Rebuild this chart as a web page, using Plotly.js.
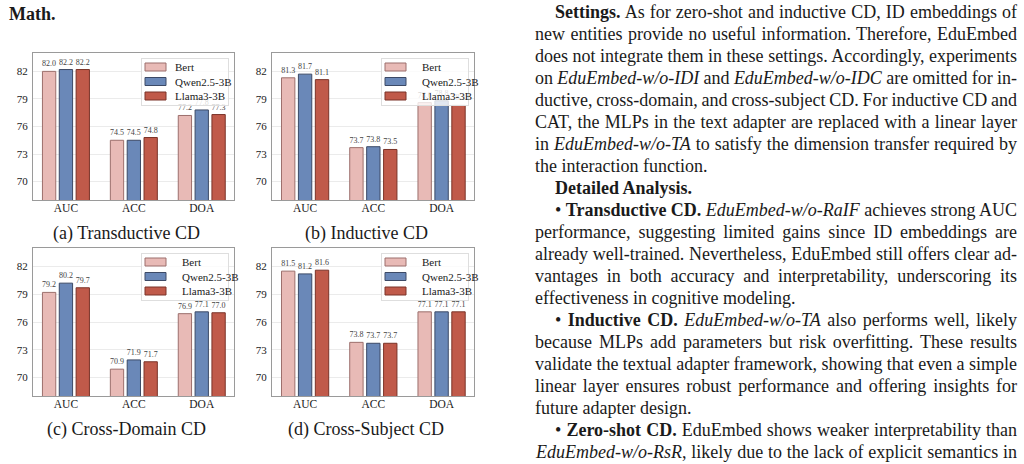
<!DOCTYPE html>
<html><head><meta charset="utf-8">
<script src="https://cdn.plot.ly/plotly-3.0.1.min.js"></script>
<style>html,body{margin:0;padding:0;background:#fff;overflow:hidden}#chart{width:1024px;height:464px}</style>
</head><body><div id="chart"></div>
<script>
// ---------- data ----------
const categories = ['AUC', 'ACC', 'DOA'];
const models = ['Bert', 'Qwen2.5-3B', 'Llama3-3B'];
const yTicks = [70, 73, 76, 79, 82];

const transBert  = [82.0, 74.5, 77.2];
const transQwen  = [82.2, 74.5, 77.8];
const transLlama = [82.2, 74.8, 77.3];

const inducBert  = [81.3, 73.7, 78.6];
const inducQwen  = [81.7, 73.8, 78.8];
const inducLlama = [81.1, 73.5, 78.3];

const domainBert  = [79.2, 70.9, 76.9];
const domainQwen  = [80.2, 71.9, 77.1];
const domainLlama = [79.7, 71.7, 77.0];

const subjectBert  = [81.5, 73.8, 77.1];
const subjectQwen  = [81.2, 73.7, 77.1];
const subjectLlama = [81.6, 73.7, 77.1];

const captions = ['(a) Transductive CD', '(b) Inductive CD', '(c) Cross-Domain CD', '(d) Cross-Subject CD'];

const bodyText = [
  '<b>Settings.</b> As for zero-shot and inductive CD, ID embeddings of',
  'new entities provide no useful information. Therefore, EduEmbed',
  'does not integrate them in these settings. Accordingly, experiments',
  'on <i>EduEmbed-w/o-IDI</i> and <i>EduEmbed-w/o-IDC</i> are omitted for in-',
  'ductive, cross-domain, and cross-subject CD. For inductive CD and',
  'CAT, the MLPs in the text adapter are replaced with a linear layer',
  'in <i>EduEmbed-w/o-TA</i> to satisfy the dimension transfer required by',
  'the interaction function.',
  '<b>Detailed Analysis.</b>',
  '• <b>Transductive CD.</b> <i>EduEmbed-w/o-RaIF</i> achieves strong AUC',
  'performance, suggesting limited gains since ID embeddings are',
  'already well-trained. Nevertheless, EduEmbed still offers clear ad-',
  'vantages in both accuracy and interpretability, underscoring its',
  'effectiveness in cognitive modeling.',
  '• <b>Inductive CD.</b> <i>EduEmbed-w/o-TA</i> also performs well, likely',
  'because MLPs add parameters but risk overfitting. These results',
  'validate the textual adapter framework, showing that even a simple',
  'linear layer ensures robust performance and offering insights for',
  'future adapter design.',
  '• <b>Zero-shot CD.</b> EduEmbed shows weaker interpretability than',
  '<i>EduEmbed-w/o-RsR</i>, likely due to the lack of explicit semantics in'
];
const bodyIndent  = [1,0,0,0,0,0,0,0,1,1,0,0,0,0,1,0,0,0,0,1,0];
const bodyJustify = [1,1,1,1,1,1,1,0,0,1,1,1,1,0,1,1,1,1,0,1,1];

// ---------- styling ----------
const W = 1024, H = 464;
const SERIF = "'Liberation Serif', 'Times New Roman', serif";
const fills = ['#e8bab6', '#6a88b8', '#c05a4a'];
const edges = ['#9c6f6c', '#3c4a66', '#7a3328'];

const panels = [
  {vals: [transBert, transQwen, transLlama]},
  {vals: [inducBert, inducQwen, inducLlama]},
  {vals: [domainBert, domainQwen, domainLlama]},
  {vals: [subjectBert, subjectQwen, subjectLlama]}
];
const boxes = [
  {x0: 33, x1: 234, y0: 53, y1: 200, cap: 126, capY: 233},
  {x0: 272, x1: 474, y0: 53, y1: 200, cap: 366, capY: 233},
  {x0: 33, x1: 234, y0: 248, y1: 396, cap: 126, capY: 429},
  {x0: 272, x1: 474, y0: 248, y1: 396, cap: 366, capY: 429}
];

const data = [];
const layout = {
  width: W, height: H,
  margin: {l: 0, r: 0, t: 0, b: 0},
  paper_bgcolor: '#fff', plot_bgcolor: '#fff',
  barmode: 'group', bargap: 0.256, bargroupgap: 0.21,
  font: {family: SERIF, color: '#1a1a1a'},
  showlegend: true,
  annotations: []
};

panels.forEach((p, i) => {
  const n = i === 0 ? '' : String(i + 1);
  const b = boxes[i];
  p.vals.forEach((v, k) => {
    data.push({
      type: 'bar', x: categories, y: v, name: models[k],
      xaxis: 'x' + n, yaxis: 'y' + n,
      legend: 'legend' + n,
      marker: {color: fills[k], line: {color: edges[k], width: 1}},
      text: v.map(d => d.toFixed(1)), textposition: 'outside',
      textfont: {family: SERIF, size: 8, color: '#444'},
      constraintext: 'none', cliponaxis: true
    });
  });
  layout['xaxis' + n] = {
    domain: [b.x0 / W, b.x1 / W], anchor: 'y' + n, type: 'category',
    range: [-0.485, 2.475], showline: true, mirror: true, linecolor: '#9a9a9a', linewidth: 1,
    ticks: '', showgrid: false, zeroline: false, fixedrange: true,
    ticklabelstandoff: -3,
    tickfont: {family: SERIF, size: 11.5, color: '#1a1a1a'}
  };
  layout['yaxis' + n] = {
    domain: [1 - b.y1 / H, 1 - b.y0 / H], anchor: 'x' + n,
    range: [68, 84], tickvals: yTicks, showline: true, mirror: true, linecolor: '#9a9a9a', linewidth: 1,
    ticks: '', showgrid: true, gridcolor: '#ebebeb', gridwidth: 1, zeroline: false, fixedrange: true,
    ticklabelstandoff: 2,
    tickfont: {family: SERIF, size: 11, color: '#1a1a1a'}
  };
  layout['legend' + n] = {
    x: (b.x1 - 5) / W, y: 1 - (b.y0 + 5) / H, xanchor: 'right', yanchor: 'top',
    bgcolor: 'rgba(255,255,255,0.8)', bordercolor: '#dedede', borderwidth: 1,
    font: {family: SERIF, size: 11, color: '#1a1a1a'}, tracegroupgap: 0
  };
  layout.annotations.push({
    xref: 'paper', yref: 'paper', x: b.cap / W, y: 1 - b.capY / H,
    xanchor: 'center', yanchor: 'middle', showarrow: false,
    text: captions[i], font: {family: SERIF, size: 18, color: '#1a1a1a'}
  });
});

layout.annotations.push({
  xref: 'paper', yref: 'paper', x: 7 / W, y: 1 - 14 / H, xanchor: 'left', yanchor: 'middle',
  showarrow: false, text: '<b>Math.</b>', font: {family: SERIF, size: 18, color: '#1a1a1a'}
});

const annStart = layout.annotations.length;
bodyText.forEach((t, i) => {
  layout.annotations.push({
    xref: 'paper', yref: 'paper', x: (bodyIndent[i] ? 553 : 533) / W, y: 1 - (12 + 22 * i) / H,
    xanchor: 'left', yanchor: 'middle', align: 'left', showarrow: false,
    text: t, font: {family: SERIF, size: 18, color: '#1a1a1a'}
  });
});

function parseT(tr) {
  const m = /translate\(\s*([-\d.eE]+)[ ,]+([-\d.eE]+)\s*\)/.exec(tr || '');
  return m ? [parseFloat(m[1]), parseFloat(m[2])] : [0, 0];
}

Plotly.newPlot('chart', data, layout, {staticPlot: true, displayModeBar: false}).then(gd => {
  // compact legends (matplotlib-like)
  try {
    gd.querySelectorAll('.infolayer > g').forEach(lg => {
      const bg = lg.querySelector(':scope > rect.bg');
      const traces = lg.querySelectorAll('g.traces');
      if (!bg || !traces.length) return;
      const step = 14.5, top = 9, shrink = 16;
      let lastY = 0;
      traces.forEach((tr, k) => {
        const t = parseT(tr.getAttribute('transform'));
        lastY = top + k * step;
        tr.setAttribute('transform', 'translate(' + t[0] + ',' + lastY + ')');
        const txt = tr.querySelector('text.legendtext');
        if (txt) txt.setAttribute('x', parseFloat(txt.getAttribute('x')) - 7);
        tr.querySelectorAll('.legendpoints path').forEach(pth => pth.setAttribute('d', 'M4,4H-17V-4H4Z'));
      });
      const w = parseFloat(bg.getAttribute('width'));
      bg.setAttribute('width', w - shrink);
      bg.setAttribute('height', lastY + 9);
      const lt = parseT(lg.getAttribute('transform'));
      lg.setAttribute('transform', 'translate(' + (lt[0] + shrink) + ',' + lt[1] + ')');
    });
  } catch (e) {}
  // justify body lines
  const rightPx = 1017;
  const root = gd.getBoundingClientRect();
  bodyText.forEach((t, i) => {
    if (!bodyJustify[i]) return;
    const el = gd.querySelector('.annotation[data-index="' + (annStart + i) + '"] text.annotation-text');
    if (!el) return;
    const bb = el.getBoundingClientRect();
    const target = rightPx - (bb.left - root.left);
    const spaces = (el.textContent.match(/ /g) || []).length;
    if (spaces > 0) el.style.wordSpacing = ((target - bb.width) / spaces) + 'px';
  });
});
</script>
</body></html>
